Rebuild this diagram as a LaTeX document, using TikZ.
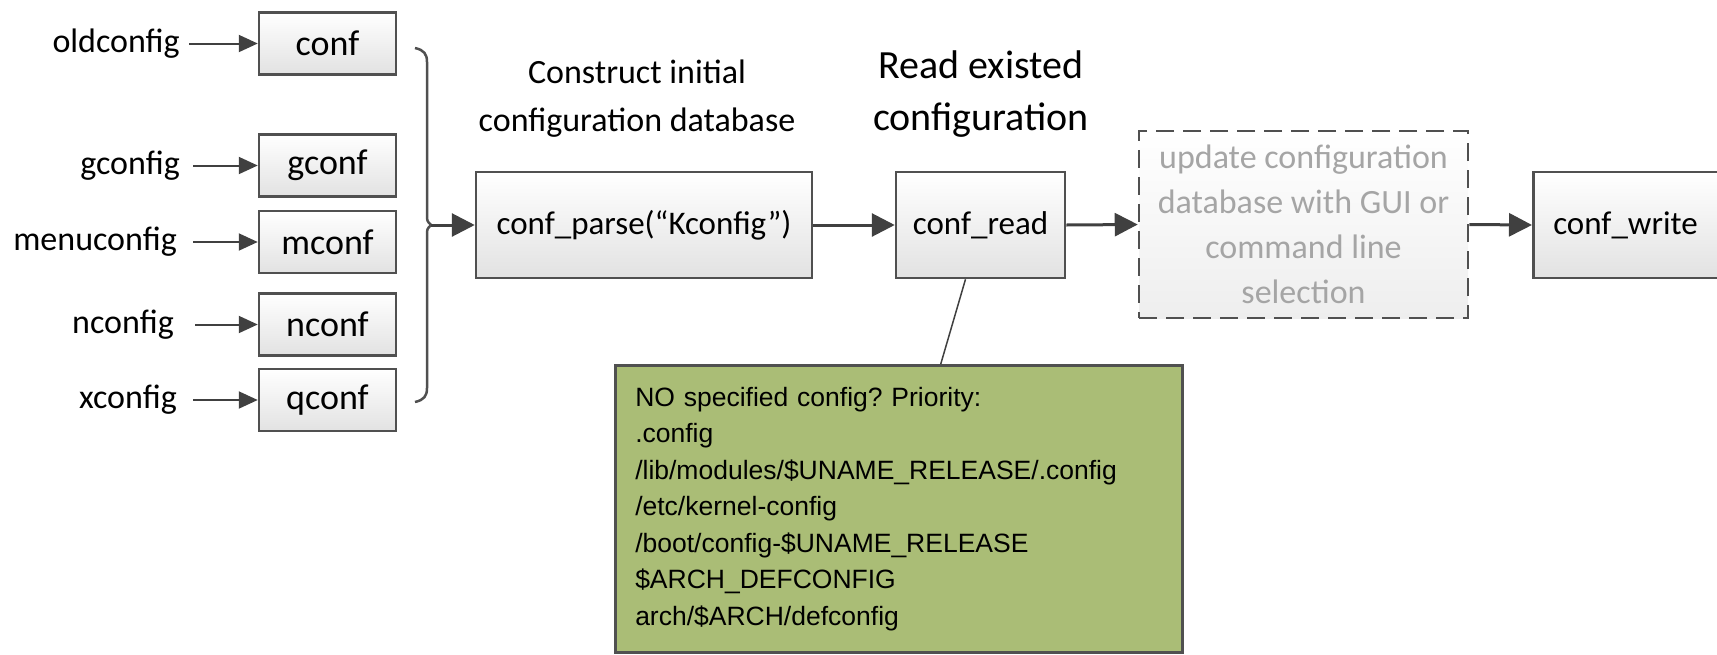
\documentclass[tikz,border=0pt]{standalone}
\usepackage{fontspec}
\setmainfont{Carlito}
\newfontfamily\notefont{Liberation Sans}
\usetikzlibrary{arrows.meta}
\frenchspacing
\definecolor{edgegray}{RGB}{80,80,80}
\definecolor{linegray}{RGB}{64,64,64}
\definecolor{boxbottom}{RGB}{226,226,226}
\definecolor{dashbottom}{RGB}{238,238,238}
\definecolor{dashtext}{RGB}{165,165,165}
\definecolor{notegreen}{RGB}{170,189,118}
\tikzset{
  smallbox/.style={draw=edgegray, line width=2.5pt, top color=white, bottom color=boxbottom,
    minimum width=137pt, minimum height=62pt, inner sep=0pt, font=\fontsize{36}{40}\selectfont},
  mainbox/.style={draw=edgegray, line width=2.5pt, top color=white, bottom color=boxbottom,
    minimum height=106pt, inner sep=0pt, font=\fontsize{33}{38}\selectfont},
  dashbox/.style={draw=edgegray, line width=2.5pt, dash pattern=on 18pt off 9pt,
    top color=white, bottom color=dashbottom, text=dashtext, align=center,
    minimum width=329pt, minimum height=187pt, inner sep=0pt, font=\fontsize{34}{45}\selectfont},
  notebox/.style={draw=edgegray, line width=2.5pt, fill=notegreen, align=left,
    text width=527pt, inner xsep=20pt, inner ysep=0pt, minimum height=287pt,
    font=\notefont\fontsize{26.5}{36.5}\selectfont},
  inlabel/.style={anchor=east, inner sep=0pt, font=\fontsize{34}{40}\selectfont},
  toplabel/.style={align=center, inner sep=0pt},
  smallarrow/.style={draw=linegray, line width=2pt, -{Triangle[length=19pt,width=17pt]}},
  bigarrow/.style={draw=linegray, line width=3pt, -{Triangle[length=23pt,width=23pt]}},
  bracestyle/.style={draw=edgegray, line width=2.5pt},
  noteline/.style={draw=linegray, line width=1.5pt}
}
\begin{document}
\begin{tikzpicture}[x=1pt,y=-1pt]
\useasboundingbox (0,0) rectangle (1717,654);
\clip (0,0) rectangle (1717,654);
% left boxes
\node[smallbox] (conf) at (327.5,43.5) {conf};
\node[smallbox] (gconf) at (327.5,165.5) {gconf};
\node[smallbox] (mconf) at (327.5,242) {mconf};
\node[smallbox] (nconf) at (327.5,324.5) {nconf};
\node[smallbox] (qconf) at (327.5,400) {qconf};
% labels
\node[inlabel] (lold) at (180,43.5) {oldconfig};
\node[inlabel] (lg) at (180,165.5) {gconfig};
\node[inlabel] (lm) at (177,242) {menuconfig};
\node[inlabel] (ln) at (174,324.5) {nconfig};
\node[inlabel] (lx) at (177,400) {xconfig};
\draw[smallarrow] ([xshift=9pt]lold.east) -- (conf.west);
\draw[smallarrow] ([xshift=13pt]lg.east) -- (gconf.west);
\draw[smallarrow] ([xshift=16pt]lm.east) -- (mconf.west);
\draw[smallarrow] ([xshift=21pt]ln.east) -- (nconf.west);
\draw[smallarrow] ([xshift=16pt]lx.east) -- (qconf.west);
% brace
\coordinate (btop) at (415,48);
\coordinate (btip) at (431,225);
\coordinate (bbot) at (415,402);
\draw[bracestyle] (btop) .. controls (424,50) and (427,54) .. (427,62) -- (427,214)
  .. controls (427,221) .. (btip) .. controls (427,229) .. (427,236) -- (427,388)
  .. controls (427,396) and (424,400) .. (bbot);
% main boxes
\node[mainbox, minimum width=336pt] (parse) at (644,225) {conf\_parse(“Kconfig”)};
\node[mainbox, minimum width=169pt] (read) at (980.5,225) {conf\_read};
\node[dashbox] (update) at (1303.5,224.5) {update configuration\\database with GUI or\\command line\\selection};
\node[mainbox, anchor=west, text width=168pt, inner xsep=20pt, align=left] (write) at (1532,225) {conf\_write};
% top labels
\node[toplabel, font=\fontsize{34}{48}\selectfont] (lparse) at (637,99) {Construct initial\\configuration database};
\node[toplabel, font=\fontsize{40}{52}\selectfont] (lread) at (981,94) {Read existed\\configuration};
% arrows
\draw[bigarrow] (btip) -- (parse.west);
\draw[bigarrow] (parse.east) -- (read.west);
\draw[bigarrow] (read.east) -- (update.west);
\draw[bigarrow] (update.east) -- (write.west);
% note
\node[notebox, anchor=north west] (note) at (614,364) {NO specified config? Priority:\\.config\\/lib/modules/\$UNAME\_RELEASE/.config\\/etc/kernel-config\\/boot/config-\$UNAME\_RELEASE\\\$ARCH\_DEFCONFIG\\arch/\$ARCH/defconfig};
\draw[noteline] ([xshift=-15pt]read.south) -- ([xshift=42pt]note.north);
\end{tikzpicture}
\end{document}
